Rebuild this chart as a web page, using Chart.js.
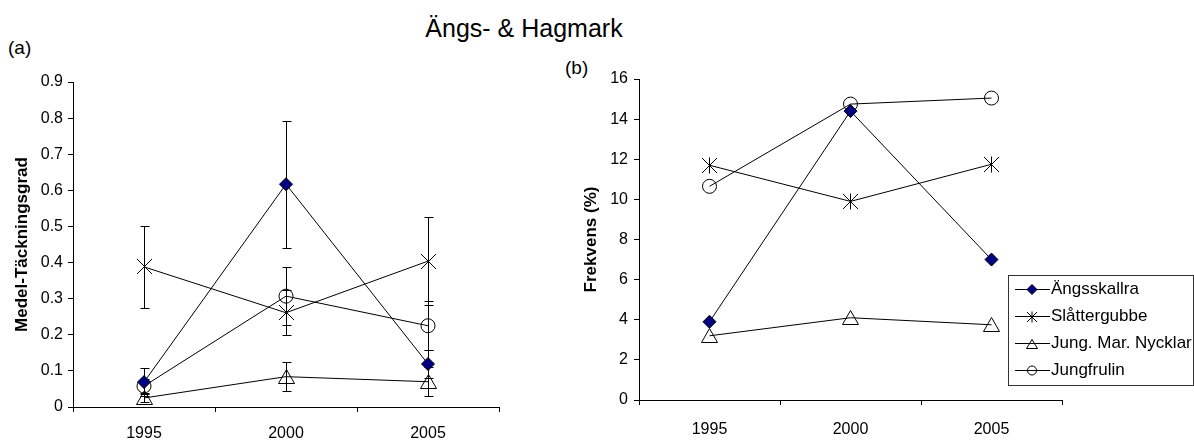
<!DOCTYPE html>
<html><head><meta charset="utf-8">
<script src="https://cdn.jsdelivr.net/npm/chart.js@4.4.0/dist/chart.umd.min.js"></script>
<style>
html,body{margin:0;padding:0;background:#fff;width:1194px;height:441px;overflow:hidden;position:relative;font-family:"Liberation Sans",Arial,sans-serif;}
.t{position:absolute;white-space:nowrap;color:#000;}
canvas{position:absolute;}
</style></head><body>
<div class="t" style="left:224px;width:600px;text-align:center;top:16px;font-size:25px;line-height:25px;">Ängs- &amp; Hagmark</div>
<div class="t" style="left:8px;top:38px;font-size:19px;line-height:19px;">(a)</div>
<div class="t" style="left:565px;top:58px;font-size:19px;line-height:19px;">(b)</div>
<canvas id="c1" width="530" height="381" style="left:0;top:60px"></canvas>
<canvas id="c2" width="654" height="381" style="left:540px;top:60px"></canvas>
<script>
// ---- data ----
const categories = ['1995', '2000', '2005'];
const seriesNames = ['Ängsskallra', 'Slåttergubbe', 'Jung. Mar. Nycklar', 'Jungfrulin'];

// (a) Medel-Täckningsgrad with error bars (± values)
const coverAngsskallra   = [0.069, 0.617, 0.119];
const errAngsskallra     = [0.039, 0.176, 0.039];
const coverSlattergubbe  = [0.388, 0.261, 0.404];
const errSlattergubbe    = [0.113, 0.062, 0.122];
const coverNycklar       = [0.025, 0.084, 0.070];
const errNycklar         = [0.012, 0.040, 0.040];
const coverJungfrulin    = [0.058, 0.307, 0.225];
const errJungfrulin      = [0.020, 0.081, 0.068];

// (b) Frekvens (%)
const freqAngsskallra  = [3.9, 14.4, 7.0];
const freqSlattergubbe = [11.7, 9.9, 11.75];
const freqNycklar      = [3.2, 4.1, 3.75];
const freqJungfrulin   = [10.65, 14.75, 15.05];

const coverTicks = [0, 0.1, 0.2, 0.3, 0.4, 0.5, 0.6, 0.7, 0.8, 0.9];
const coverTickLabels = ['0', '0.1', '0.2', '0.3', '0.4', '0.5', '0.6', '0.7', '0.8', '0.9'];
const freqTicks = [0, 2, 4, 6, 8, 10, 12, 14, 16];
const freqTickLabels = ['0', '2', '4', '6', '8', '10', '12', '14', '16'];

// ---- marker images ----
function makeStar(s) {
  const c = document.createElement('canvas'); c.width = s; c.height = s;
  const g = c.getContext('2d'); g.strokeStyle = '#000'; g.lineWidth = 1;
  g.beginPath();
  g.moveTo(1, 1); g.lineTo(s - 1, s - 1);
  g.moveTo(s - 1, 1); g.lineTo(1, s - 1);
  g.moveTo(s / 2, 0.5); g.lineTo(s / 2, s - 0.5);
  g.stroke();
  return c;
}
function makeTri(w, h) {
  const c = document.createElement('canvas'); c.width = w; c.height = h;
  const g = c.getContext('2d'); g.strokeStyle = '#000'; g.lineWidth = 1;
  g.beginPath();
  g.moveTo(w / 2, 0.5); g.lineTo(w - 0.5, h - 0.5); g.lineTo(0.5, h - 0.5); g.closePath();
  g.stroke();
  return c;
}
const starImg = makeStar(17), triImg = makeTri(17, 15);
const starSmall = makeStar(12), triSmall = makeTri(12, 10);

function datasets(vals, errs) {
  const base = {borderColor: '#000', borderWidth: 1, fill: false, tension: 0, pointBorderColor: '#000', pointBorderWidth: 1};
  return [
    Object.assign({}, base, {label: seriesNames[0], data: vals[0], errors: errs && errs[0], pointStyle: 'rectRot', pointRadius: 6.5, pointBackgroundColor: '#000080', legendStyle: 'rectRot', legendRadius: 5, legendFill: '#000080'}),
    Object.assign({}, base, {label: seriesNames[1], data: vals[1], errors: errs && errs[1], pointStyle: starImg, pointRadius: 8, pointBackgroundColor: 'rgba(0,0,0,0)', legendStyle: starSmall, legendRadius: 6, legendFill: 'rgba(0,0,0,0)'}),
    Object.assign({}, base, {label: seriesNames[2], data: vals[2], errors: errs && errs[2], pointStyle: triImg, pointRadius: 8, pointBackgroundColor: 'rgba(0,0,0,0)', legendStyle: triSmall, legendRadius: 6, legendFill: 'rgba(0,0,0,0)'}),
    Object.assign({}, base, {label: seriesNames[3], data: vals[3], errors: errs && errs[3], pointStyle: 'circle', pointRadius: 7, pointBackgroundColor: 'rgba(0,0,0,0)', legendStyle: 'circle', legendRadius: 4.5, legendFill: 'rgba(0,0,0,0)'})
  ];
}

const crisp = {
  id: 'crisp',
  beforeDraw(chart) { chart.ctx.imageSmoothingEnabled = false; }
};

const errorBars = {
  id: 'errorBars',
  beforeDatasetsDraw(chart) {
    const ctx = chart.ctx, y = chart.scales.y;
    ctx.save();
    ctx.strokeStyle = '#000'; ctx.lineWidth = 1;
    chart.data.datasets.forEach((ds, i) => {
      if (!ds.errors) return;
      const meta = chart.getDatasetMeta(i);
      meta.data.forEach((pt, j) => {
        const v = ds.data[j], e = ds.errors[j];
        const x = Math.round(pt.x) + 0.5;
        const yt = Math.round(y.getPixelForValue(v + e)) + 0.5;
        const yb = Math.round(y.getPixelForValue(v - e)) + 0.5;
        ctx.beginPath();
        ctx.moveTo(x, yt); ctx.lineTo(x, yb);
        ctx.moveTo(x - 4, yt); ctx.lineTo(x + 5, yt);
        ctx.moveTo(x - 4, yb); ctx.lineTo(x + 5, yb);
        ctx.stroke();
      });
    });
    ctx.restore();
  }
};

const boxLegend = {
  id: 'boxLegend',
  afterDraw(chart, args, o) {
    const ctx = chart.ctx;
    ctx.save();
    ctx.imageSmoothingEnabled = false;
    ctx.strokeStyle = '#333'; ctx.lineWidth = 1;
    ctx.strokeRect(o.x + 0.5, o.y + 0.5, o.w, o.h);
    ctx.font = '17px "Liberation Sans", Arial, sans-serif';
    ctx.textBaseline = 'middle'; ctx.fillStyle = '#000';
    chart.data.datasets.forEach((ds, i) => {
      const yy = Math.round(o.y + o.row0 + i * o.rowH) + 0.5;
      ctx.strokeStyle = '#000';
      ctx.beginPath(); ctx.moveTo(o.x + 7, yy); ctx.lineTo(o.x + 42, yy); ctx.stroke();
      ctx.fillStyle = ds.legendFill; ctx.strokeStyle = '#000'; ctx.lineWidth = 1;
      Chart.helpers.drawPoint(ctx, {pointStyle: ds.legendStyle, radius: ds.legendRadius, rotation: 0, borderWidth: 1}, o.x + 24, yy);
      ctx.fillStyle = '#000';
      ctx.fillText(ds.label, o.x + 43, yy);
    });
    ctx.restore();
  }
};

function options(yTicks, yLabels, yTitle, cfg) {
  return {
    responsive: false, animation: false, events: [],
    layout: {padding: {left: cfg.pl, top: cfg.pt, right: cfg.pr, bottom: 0}},
    plugins: {legend: {display: false}, tooltip: {enabled: false}, title: {display: false}, boxLegend: cfg.legend || false},
    scales: {
      x: {
        type: 'category', offset: true,
        grid: {offset: true, drawOnChartArea: false, drawTicks: true, tickLength: 5, color: '#000', lineWidth: 1},
        border: {display: true, color: '#000', width: 1},
        ticks: {font: {size: 16, family: '"Liberation Sans", Arial, sans-serif'}, color: '#000', padding: cfg.xpad, maxRotation: 0, autoSkip: false},
        afterFit(s) { s.height = cfg.xh; }
      },
      y: {
        min: yTicks[0], max: yTicks[yTicks.length - 1],
        afterBuildTicks(s) { s.ticks = yTicks.map(v => ({value: v})); },
        grid: {drawOnChartArea: false, drawTicks: true, tickLength: 5, color: '#000', lineWidth: 1},
        border: {display: true, color: '#000', width: 1},
        ticks: {font: {size: 16, family: '"Liberation Sans", Arial, sans-serif'}, color: '#000', padding: cfg.ypad, callback: (v, i) => yLabels[i]},
        title: {display: true, text: yTitle, color: '#000', font: {size: 17, weight: 'bold', family: '"Liberation Sans", Arial, sans-serif'}, padding: {top: 4, bottom: 4}},
        afterFit(s) { s.width = cfg.yw; }
      }
    }
  };
}

new Chart(document.getElementById('c1'), {
  type: 'line',
  data: {labels: categories, datasets: datasets(
    [coverAngsskallra, coverSlattergubbe, coverNycklar, coverJungfrulin],
    [errAngsskallra, errSlattergubbe, errNycklar, errJungfrulin])},
  options: options(coverTicks, coverTickLabels, 'Medel-Täckningsgrad', {pl: 8, pt: 22, pr: 31, xh: 34, yw: 65, xpad: 12, ypad: 5}),
  plugins: [crisp, errorBars]
});

new Chart(document.getElementById('c2'), {
  type: 'line',
  data: {labels: categories, datasets: datasets(
    [freqAngsskallra, freqSlattergubbe, freqNycklar, freqJungfrulin], null)},
  options: options(freqTicks, freqTickLabels, 'Frekvens (%)', {pl: 37, pt: 19, pr: 132, xh: 41, yw: 62, xpad: 15, ypad: 6,
    legend: {x: 468, y: 215, w: 185, h: 110, row0: 14, rowH: 27}}),
  plugins: [crisp, boxLegend]
});
</script>
</body></html>
